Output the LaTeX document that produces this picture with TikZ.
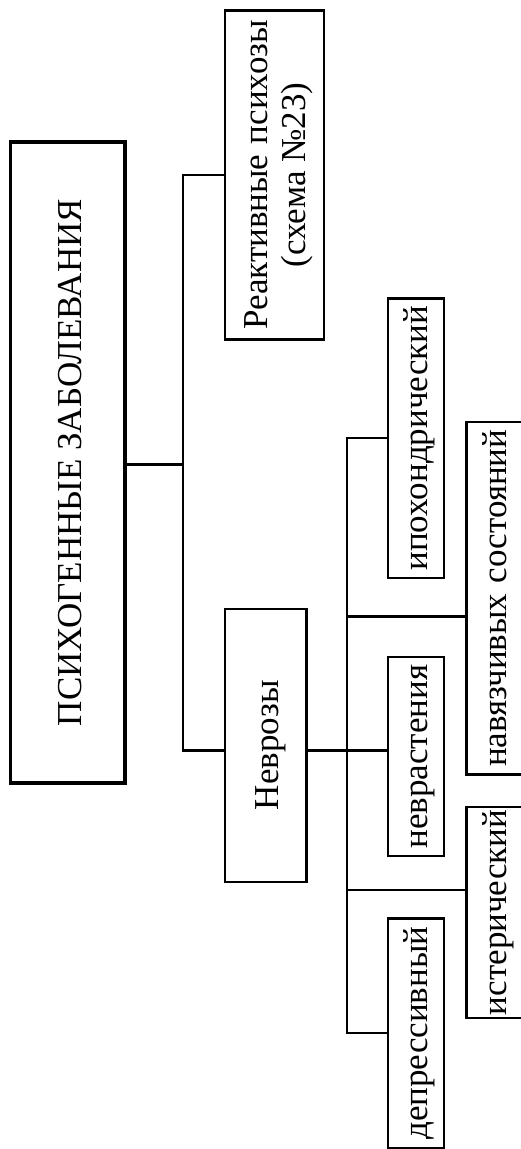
\documentclass[tikz,border=0pt]{standalone}
\usepackage{fontspec}
\usepackage{graphicx}
\setmainfont{Liberation Serif}
\usetikzlibrary{calc}
\newcommand{\rtext}[2]{\rotatebox{90}{\smash{\raisebox{#1}{#2}}}}
\begin{document}
\begin{tikzpicture}[x=1pt,y=-1pt,
  every node/.style={font=\fontsize{35}{38}\selectfont},
  box/.style={draw, rectangle, inner sep=0pt, line width=2.3pt},
  mainbox/.style={box, line width=3.8pt},
  conn/.style={line width=2.2pt}]
\useasboundingbox (0,0) rectangle (521,1149);
\begin{scope}
\clip (0,0) rectangle (521,1149);
\node[mainbox, minimum width=114.5pt, minimum height=641pt] (main) at (67.75,462.5)
  {\rtext{-14pt}{ПСИХОГЕННЫЕ ЗАБОЛЕВАНИЯ}};
\node[box, minimum width=99pt, minimum height=329pt] (react) at (274.5,175)
  {\rtext{7.5pt}{\begin{tabular}[t]{@{}c@{}}Реактивные\hspace{0.3em}психозы\\(схема №23)\end{tabular}}};
\node[box, minimum width=81.5pt, minimum height=272.7pt] (nevr) at (265.75,745.3)
  {\rtext{-12.25pt}{Неврозы}};
\node[box, minimum width=56.2pt, minimum height=279.7pt] (ipoh) at (415.9,438.2)
  {\rtext{-12pt}{ипохондрический}};
\node[box, minimum width=56.2pt, minimum height=352.3pt] (navyaz) at (494.6,598.3)
  {\rtext{-11.5pt}{навязчивых\hspace{0.3em}состояний}};
\node[box, minimum width=56.2pt, minimum height=199pt] (nevrast) at (415.9,756.5)
  {\rtext{-12pt}{неврастения}};
\node[box, minimum width=56.2pt, minimum height=210.8pt] (ister) at (494.6,912.4)
  {\rtext{-11.5pt}{истерический}};
\node[box, minimum width=56.2pt, minimum height=229.3pt] (depr) at (415.9,1033.15)
  {\rtext{-12pt}{депрессивный}};
\coordinate (t2) at (182.8,464.5);
\coordinate (t3) at (182.8,750.5);
\coordinate (bus) at (347,0);
\coordinate (n1) at (347,616.5);
\coordinate (i1) at (347,890);
\draw[conn] (t2 -| main.east) -- (t2);
\draw[conn] (react.west) -| (t3) -- (t3 -| nevr.west);
\draw[conn] (t3 -| nevr.east) -- (t3 -| nevrast.west);
\draw[conn] (ipoh.west) -| (bus |- depr.west) -- (depr.west);
\draw[conn] (n1) -- (n1 -| navyaz.west);
\draw[conn] (i1) -- (i1 -| ister.west);
\end{scope}
\end{tikzpicture}
\end{document}
